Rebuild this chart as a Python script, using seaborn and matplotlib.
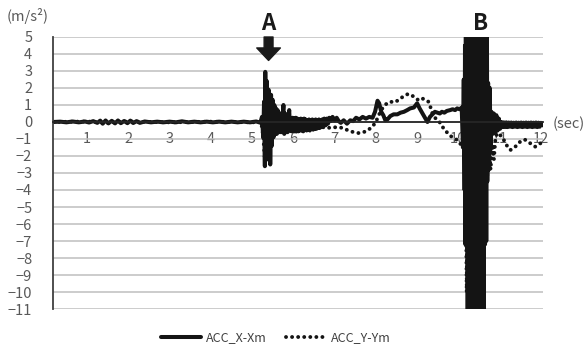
import matplotlib
matplotlib.use("Agg")
import matplotlib.pyplot as plt
import pandas as pd
import seaborn as sns

# values as (sec, m/s^2)
# ACC_X-Xm (solid line)
x_quiet = [(0.18, 0.0), (0.35, 0.02), (0.5, -0.02), (0.65, 0.03), (0.8, -0.02),
           (0.95, 0.03), (1.05, -0.03), (1.15, 0.05), (1.25, -0.05), (1.32, 0.08),
           (1.38, -0.1), (1.45, 0.09), (1.52, -0.08), (1.6, 0.07), (1.68, -0.08),
           (1.75, 0.09), (1.82, -0.07), (1.9, 0.06), (1.98, -0.07), (2.05, 0.08),
           (2.12, -0.06), (2.2, 0.05), (2.28, -0.05), (2.4, 0.03), (2.55, -0.02),
           (2.7, 0.02), (2.85, -0.02), (3.0, 0.02), (3.15, -0.02), (3.3, 0.04),
           (3.45, -0.02), (3.6, 0.02), (3.75, -0.02), (3.9, 0.02), (4.05, -0.02),
           (4.2, 0.02), (4.35, -0.02), (4.5, 0.02), (4.65, -0.02), (4.8, 0.02),
           (4.95, -0.02), (5.1, 0.03), (5.2, -0.04)]
x_event_a = [(5.24, 0.3), (5.27, -0.9), (5.29, 1.2), (5.31, -2.6), (5.32, 2.95),
             (5.34, -1.8), (5.36, 2.4), (5.38, -2.2), (5.40, 1.9), (5.42, -1.6),
             (5.43, 0.8), (5.44, -2.5), (5.46, 1.6), (5.48, -1.4), (5.50, 1.3),
             (5.52, -0.9), (5.54, 1.0), (5.56, -0.7), (5.58, 0.8), (5.60, -0.7),
             (5.62, 0.7), (5.64, -0.6), (5.66, 0.5), (5.68, -0.6), (5.70, 0.5),
             (5.72, -0.6), (5.74, 0.4), (5.76, 1.0), (5.78, -0.7), (5.80, 0.5),
             (5.82, -0.6), (5.84, 0.4), (5.86, -0.6), (5.88, 0.3), (5.90, 0.7),
             (5.92, -0.5)]
x_middle = [(5.94, 0.2), (5.96, -0.55), (5.98, 0.25), (6.0, -0.5), (6.02, 0.2),
            (6.04, -0.55), (6.06, 0.25), (6.08, -0.5), (6.10, 0.2), (6.12, -0.55),
            (6.14, 0.15), (6.16, -0.5), (6.18, 0.2), (6.20, -0.5), (6.22, 0.15),
            (6.24, -0.55), (6.26, 0.2), (6.28, -0.45), (6.30, 0.15), (6.32, -0.5),
            (6.34, 0.1), (6.36, -0.45), (6.38, 0.15), (6.40, -0.5), (6.42, 0.1),
            (6.44, -0.4), (6.46, 0.15), (6.48, -0.45), (6.50, 0.1), (6.52, -0.4),
            (6.54, 0.15), (6.56, -0.4), (6.58, 0.1), (6.60, -0.35), (6.62, 0.15),
            (6.64, -0.35), (6.66, 0.1), (6.68, -0.3), (6.70, 0.15), (6.72, -0.3),
            (6.75, 0.2), (6.78, -0.2), (6.81, 0.2), (6.84, -0.1), (6.87, 0.25),
            (6.9, 0.05), (6.95, 0.3), (7.0, 0.1), (7.05, 0.25), (7.1, 0.05),
            (7.15, -0.05), (7.22, 0.1), (7.3, -0.1), (7.38, 0.1), (7.45, 0.05),
            (7.52, 0.25), (7.6, 0.15), (7.68, 0.3), (7.76, 0.2), (7.84, 0.3),
            (7.92, 0.25), (7.98, 0.6), (8.04, 1.25), (8.08, 1.1), (8.13, 0.6),
            (8.18, 0.4), (8.23, 0.1), (8.28, 0.15), (8.35, 0.35), (8.43, 0.45),
            (8.52, 0.45), (8.6, 0.55), (8.68, 0.6), (8.76, 0.7), (8.83, 0.8),
            (8.92, 0.85), (9.0, 1.1), (9.06, 0.8), (9.13, 0.5), (9.19, 0.25),
            (9.25, 0.0), (9.31, 0.3), (9.37, 0.45), (9.43, 0.6), (9.49, 0.55),
            (9.55, 0.5), (9.6, 0.6), (9.66, 0.55), (9.72, 0.65), (9.8, 0.7),
            (9.86, 0.75), (9.92, 0.7), (9.97, 0.8), (10.03, 0.75), (10.08, 0.85)]
x_event_b = [(10.11, -1.5), (10.13, 2.5), (10.15, -4.0), (10.16, 4.5), (10.17, -7.2),
             (10.18, 8.0), (10.195, -7.3), (10.21, 9.0), (10.225, -13.0), (10.24, 9.0),
             (10.255, -12.5), (10.27, 8.5), (10.285, -13.0), (10.30, 9.0), (10.315, -13.5),
             (10.33, 9.0), (10.345, -13.0), (10.36, 8.5), (10.375, -13.0), (10.39, 9.0),
             (10.405, -12.5), (10.42, 9.0), (10.435, -13.0), (10.45, 9.5), (10.465, -13.0),
             (10.48, 9.0), (10.495, -13.5), (10.51, 9.0), (10.525, -13.0), (10.54, 8.5),
             (10.555, -13.0), (10.57, 9.0), (10.585, -12.5), (10.60, 9.0), (10.615, -13.0),
             (10.63, 9.0), (10.645, -7.2), (10.66, 8.0), (10.675, -7.0), (10.69, 7.0),
             (10.70, -3.5), (10.72, 2.3), (10.74, -2.8), (10.76, 2.0), (10.78, -1.6)]
x_tail = [(10.8, 0.6), (10.83, -0.7), (10.86, 0.5), (10.89, -0.65), (10.92, 0.4),
          (10.95, -0.5), (10.98, 0.2), (11.01, -0.4), (11.04, 0.0), (11.07, -0.3),
          (11.10, -0.02), (11.13, -0.3), (11.16, -0.02), (11.19, -0.3), (11.22, -0.03),
          (11.25, -0.28), (11.28, -0.03), (11.31, -0.3), (11.34, -0.04), (11.37, -0.28),
          (11.40, -0.03), (11.43, -0.3), (11.46, -0.04), (11.49, -0.28), (11.52, -0.03),
          (11.55, -0.3), (11.58, -0.04), (11.61, -0.28), (11.64, -0.03), (11.67, -0.3),
          (11.70, -0.04), (11.73, -0.28), (11.76, -0.03), (11.79, -0.3), (11.82, -0.04),
          (11.85, -0.28), (11.88, -0.03), (11.91, -0.3), (11.94, -0.04), (11.97, -0.28),
          (12.0, -0.05), (12.05, -0.2)]

# ACC_Y-Ym (dotted line)
y_before = [(0.18, 0.0), (1.0, 0.03), (1.5, -0.05), (2.0, 0.03), (3.0, -0.02),
            (4.0, 0.02), (5.0, -0.02), (5.22, 0.0), (5.27, -0.8), (5.31, -2.2),
            (5.33, 1.4), (5.36, -1.5), (5.39, 1.0), (5.43, -1.2), (5.47, 0.6),
            (5.52, -0.7), (5.58, 0.3), (5.65, -0.5), (5.72, 0.1), (5.8, -0.4),
            (5.9, -0.15), (6.0, -0.35), (6.15, -0.2), (6.3, -0.35), (6.45, -0.25),
            (6.6, -0.35), (6.75, -0.3), (6.9, -0.35), (7.05, -0.3), (7.2, -0.35),
            (7.33, -0.5), (7.46, -0.6), (7.58, -0.65), (7.7, -0.6), (7.8, -0.5),
            (7.9, -0.3), (7.99, -0.05), (8.08, 0.45), (8.18, 0.9), (8.27, 1.1),
            (8.35, 1.2), (8.44, 1.15), (8.52, 1.25), (8.6, 1.4), (8.67, 1.5),
            (8.73, 1.6), (8.79, 1.65), (8.85, 1.6), (8.91, 1.5), (8.98, 1.35),
            (9.03, 1.3), (9.08, 1.4), (9.17, 1.35), (9.27, 1.2), (9.32, 0.9),
            (9.37, 0.5), (9.45, 0.2), (9.56, -0.05), (9.62, -0.3), (9.68, -0.5),
            (9.76, -0.7), (9.85, -0.9), (9.92, -1.0), (9.97, -1.05), (10.03, -1.25),
            (10.08, -1.35)]
y_event_b = [(10.12, -1.5), (10.16, 3.0), (10.2, -10.0), (10.25, 5.0), (10.3, -12.0),
             (10.35, 5.0), (10.4, -12.0), (10.45, 5.0), (10.5, -12.0), (10.55, 5.0),
             (10.6, -12.0), (10.65, 3.0), (10.7, -3.2), (10.74, -1.5), (10.78, -2.8),
             (10.82, -1.3), (10.86, -2.2), (10.9, -0.9)]
y_tail = [(10.94, -0.65), (11.0, -0.75), (11.07, -0.9), (11.13, -1.2), (11.19, -1.45),
          (11.26, -1.65), (11.32, -1.55), (11.38, -1.45), (11.44, -1.3), (11.5, -1.15),
          (11.56, -1.05), (11.62, -1.05), (11.68, -1.15), (11.74, -1.25), (11.8, -1.35),
          (11.86, -1.45), (11.93, -1.35), (11.99, -1.25), (12.05, -1.15)]

x_ticks = list(range(1, 13))
y_ticks = list(range(-11, 6))
series_names = ["ACC_X-Xm", "ACC_Y-Ym"]


def to_frame(*segments):
    rows = [p for seg in segments for p in seg]
    return pd.DataFrame(rows, columns=["sec", "acc"])


df_x = to_frame(x_quiet, x_event_a, x_middle, x_event_b, x_tail)
df_y = to_frame(y_before, y_event_b, y_tail)

sns.set_style("white")
plt.rcParams["font.family"] = ["Noto Sans CJK JP", "DejaVu Sans"]

fig = plt.figure(figsize=(5.85, 3.49), dpi=100)
ax = fig.add_axes([0.0906, 0.1146, 0.8376, 0.7794])

sns.lineplot(data=df_x, x="sec", y="acc", ax=ax, estimator=None, sort=False,
             color="#141414", lw=2.9, label=series_names[0])
sns.lineplot(data=df_y, x="sec", y="acc", ax=ax, estimator=None, sort=False,
             color="#141414", lw=2.8, linestyle=(0, (0.01, 1.55)),
             dash_capstyle="round", label=series_names[1])

ax.set_xlim(0.176, 12.05)
ax.set_ylim(-11, 5)
ax.set_xticks(x_ticks)
ax.set_yticks(y_ticks)
ax.set_xlabel("")
ax.set_ylabel("")

ax.yaxis.grid(True, color="#bfbfbf", lw=1.1)
ax.xaxis.grid(False)
ax.set_axisbelow(True)

for side in ["top", "right"]:
    ax.spines[side].set_visible(False)
ax.spines["left"].set_color("#404040")
ax.spines["left"].set_linewidth(1.3)
ax.spines["bottom"].set_position(("data", 0))
ax.spines["bottom"].set_color("#262626")
ax.spines["bottom"].set_linewidth(1.3)

ax.tick_params(axis="y", direction="out", length=4, width=1.2, color="#404040",
               labelcolor="#595959", labelsize=10.5, pad=11)
ax.tick_params(axis="x", direction="in", length=4, width=1.2, color="#262626",
               labelcolor="#595959", labelsize=10.5, pad=7)

# event markers
ax.annotate("", xy=(5.40, 3.62), xytext=(5.40, 5.0), annotation_clip=False,
            arrowprops=dict(arrowstyle="simple,head_length=0.45,head_width=0.85,tail_width=0.32",
                            mutation_scale=20, color="#1a1a1a", shrinkA=0, shrinkB=0))
ax.text(5.40, 5.8, "A", ha="center", va="center", fontsize=16, fontweight="bold",
        color="#1a1a1a", clip_on=False)
ax.text(10.53, 5.8, "B", ha="center", va="center", fontsize=16, fontweight="bold",
        color="#1a1a1a", clip_on=False)

fig.text(28 / 585, 1 - 16 / 349, "(m/s²)", ha="center", va="center", fontsize=10.5,
         color="#595959")
fig.text(553 / 585, 1 - 124 / 349, "(sec)", ha="left", va="center", fontsize=10.5,
         color="#595959")

handles, labels = ax.get_legend_handles_labels()
ax.get_legend().remove()
fig.legend(handles, labels, loc="center", bbox_to_anchor=(276 / 585, 1 - 338 / 349),
           ncol=2, frameon=False, fontsize=9, handlelength=3.2, columnspacing=1.5,
           handletextpad=0.4, labelcolor="#404040")

fig.savefig("out.png", dpi=100)
